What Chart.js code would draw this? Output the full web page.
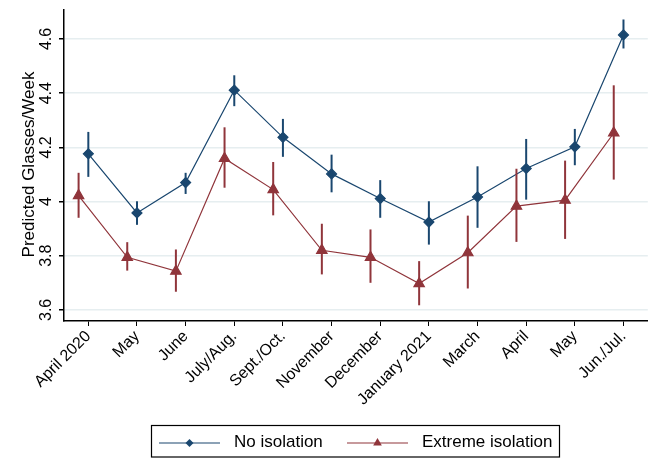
<!DOCTYPE html>
<html>
<head>
<meta charset="utf-8">
<script src="https://cdn.jsdelivr.net/npm/chart.js@4/dist/chart.umd.min.js"></script>
<style>
  html, body { margin: 0; padding: 0; background: #fff; }
  #wrap { width: 655px; height: 458px; position: relative; }
</style>
</head>
<body>
<div id="wrap"><canvas id="chart"></canvas></div>
<script>
const categories = ["April 2020", "May", "June", "July/Aug.", "Sept./Oct.", "November",
  "December", "January 2021", "March", "April", "May", "Jun./Jul."];

const noIsolation = [4.176, 3.958, 4.070, 4.411, 4.237, 4.102, 4.011, 3.924, 4.017, 4.122, 4.202, 4.615];
const noIsolationLow = [4.091, 3.914, 4.028, 4.352, 4.165, 4.034, 3.940, 3.841, 3.903, 4.007, 4.134, 4.565];
const noIsolationHigh = [4.257, 4.001, 4.106, 4.466, 4.305, 4.173, 4.079, 4.001, 4.130, 4.231, 4.268, 4.672];

const extremeIsolation = [4.022, 3.794, 3.743, 4.159, 4.044, 3.820, 3.794, 3.697, 3.811, 3.983, 4.005, 4.253];
const extremeIsolationLow = [3.940, 3.745, 3.667, 4.051, 3.949, 3.731, 3.700, 3.617, 3.679, 3.851, 3.862, 4.081];
const extremeIsolationHigh = [4.106, 3.850, 3.823, 4.274, 4.146, 3.918, 3.897, 3.780, 3.948, 4.121, 4.151, 4.429];

const yTicks = [3.6, 3.8, 4, 4.2, 4.4, 4.6];

const blue = "#1a476f";
const red = "#90353b";
const dodge = 0.2; // Stata shifts the second series a little to the left
const font = "Liberation Sans, Arial, sans-serif";

const errorBars = {
  id: "errorBars",
  afterDatasetsDraw(chart) {
    const ctx = chart.ctx;
    const yScale = chart.scales.y;
    chart.data.datasets.forEach((ds, di) => {
      const meta = chart.getDatasetMeta(di);
      ctx.save();
      ctx.strokeStyle = ds.borderColor;
      ctx.lineWidth = 2;
      meta.data.forEach((pt, i) => {
        ctx.beginPath();
        ctx.moveTo(pt.x, yScale.getPixelForValue(ds.errLow[i]));
        ctx.lineTo(pt.x, yScale.getPixelForValue(ds.errHigh[i]));
        ctx.stroke();
      });
      ctx.restore();
    });
  }
};

// y tick labels and title are rotated like Stata draws them
const yLabels = {
  id: "yLabels",
  afterDraw(chart) {
    const ctx = chart.ctx;
    const yScale = chart.scales.y;
    ctx.save();
    ctx.fillStyle = "#000";
    ctx.font = "16px " + font;
    ctx.textAlign = "center";
    ctx.textBaseline = "middle";
    yTicks.forEach(v => {
      ctx.save();
      ctx.translate(47, yScale.getPixelForValue(v));
      ctx.rotate(-Math.PI / 2);
      ctx.fillText(String(v), 0, 0);
      ctx.restore();
    });
    ctx.translate(29, (chart.chartArea.top + chart.chartArea.bottom) / 2 - 1);
    ctx.rotate(-Math.PI / 2);
    ctx.font = "17px " + font;
    ctx.fillText("Predicted Glasses/Week", 0, 0);
    ctx.restore();
  }
};

const boxLegend = {
  id: "boxLegend",
  afterDraw(chart) {
    const ctx = chart.ctx;
    ctx.save();
    ctx.strokeStyle = "#000";
    ctx.lineWidth = 1.2;
    ctx.strokeRect(151.5, 425.5, 408, 31.5);
    const yMid = 443;
    const items = [
      { x: 159, label: "No isolation", ds: 0 },
      { x: 347, label: "Extreme isolation", ds: 1 }
    ];
    ctx.font = "17px " + font;
    ctx.textBaseline = "middle";
    items.forEach(it => {
      const ds = chart.data.datasets[it.ds];
      ctx.strokeStyle = ds.borderColor;
      ctx.lineWidth = 1.2;
      ctx.beginPath();
      ctx.moveTo(it.x, yMid);
      ctx.lineTo(it.x + 61, yMid);
      ctx.stroke();
      ctx.fillStyle = ds.pointBackgroundColor;
      Chart.helpers.drawPoint(ctx, {
        pointStyle: ds.pointStyle, radius: ds.pointRadius - 1, borderWidth: 0, rotation: 0
      }, it.x + 30.5, yMid);
      ctx.fillStyle = "#000";
      ctx.fillText(it.label, it.x + 75, yMid - 1);
    });
    ctx.restore();
  }
};

new Chart(document.getElementById("chart"), {
  type: "line",
  data: {
    datasets: [
      {
        label: "No isolation",
        data: noIsolation.map((v, i) => ({ x: i, y: v })),
        errLow: noIsolationLow,
        errHigh: noIsolationHigh,
        borderColor: blue,
        backgroundColor: blue,
        pointBackgroundColor: blue,
        pointBorderColor: blue,
        pointStyle: "rectRot",
        pointRadius: 5,
        borderWidth: 1.2,
        tension: 0
      },
      {
        label: "Extreme isolation",
        data: extremeIsolation.map((v, i) => ({ x: i - dodge, y: v })),
        errLow: extremeIsolationLow,
        errHigh: extremeIsolationHigh,
        borderColor: red,
        backgroundColor: red,
        pointBackgroundColor: red,
        pointBorderColor: red,
        pointStyle: "triangle",
        pointRadius: 6,
        borderWidth: 1.2,
        tension: 0
      }
    ]
  },
  options: {
    responsive: true,
    maintainAspectRatio: false,
    animation: false,
    layout: { padding: { top: 10, right: 3, bottom: 0, left: 0 } },
    plugins: {
      legend: { display: false },
      tooltip: { enabled: false }
    },
    scales: {
      x: {
        type: "linear",
        min: -0.5,
        max: 11.5,
        afterBuildTicks: scale => { scale.ticks = categories.map((_, i) => ({ value: i })); },
        afterFit: scale => { scale.height = 137; },
        grid: { display: true, drawOnChartArea: false, color: "#000", tickLength: 5 },
        border: { color: "#000", width: 1.5 },
        ticks: {
          autoSkip: false,
          minRotation: 45,
          maxRotation: 45,
          padding: 1,
          color: "#000",
          font: { family: font, size: 16 },
          callback: v => categories[v]
        }
      },
      y: {
        min: 3.559,
        max: 4.707,
        afterBuildTicks: scale => { scale.ticks = yTicks.map(v => ({ value: v })); },
        afterFit: scale => { scale.width = 64; },
        grid: { color: "#e6eef0", lineWidth: 1.5, tickColor: "#000", tickLength: 5 },
        border: { color: "#000", width: 1.5 },
        ticks: { display: false }
      }
    }
  },
  plugins: [errorBars, yLabels, boxLegend]
});
</script>
</body>
</html>
